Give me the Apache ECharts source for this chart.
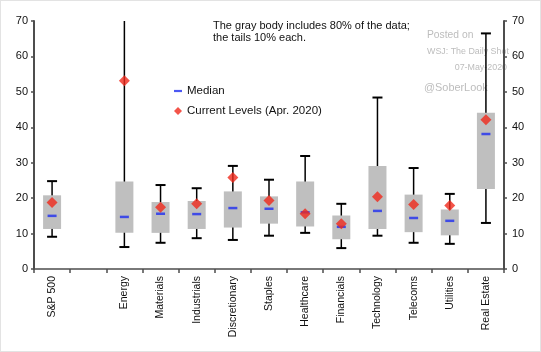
<!DOCTYPE html>
<html>
<head>
<meta charset="utf-8">
<script src="https://cdn.jsdelivr.net/npm/echarts@6/dist/echarts.min.js"></script>
<style>
  html, body { margin: 0; padding: 0; background: #fff; }
  #chart { width: 539px; height: 350px; border: 1px solid #e3e3e3; }
</style>
</head>
<body>
<div id="chart"></div>
<script>
// sectors, with an empty slot after the index
var sectors = ['S&P 500', '', 'Energy', 'Materials', 'Industrials', 'Discretionary', 'Staples',
  'Healthcare', 'Financials', 'Technology', 'Telecoms', 'Utilities', 'Real Estate'];

// 10th pct, 90th pct tails and the gray body edges
var tailLow  = [9.1, null, 6.2, 7.4, 8.7, 8.2, 9.4, 10.2, 5.9, 9.4, 7.4, 7.1, 13.0];
var bodyLow  = [11.3, null, 10.2, 10.2, 11.3, 11.7, 12.8, 12.0, 8.4, 11.3, 10.4, 9.5, 22.6];
var bodyHigh = [20.8, null, 24.7, 18.9, 19.2, 21.9, 20.5, 24.7, 15.1, 29.1, 21.0, 16.8, 44.1];
var tailHigh = [24.8, null, 75, 23.7, 22.8, 29.1, 25.2, 31.9, 18.4, 48.4, 28.5, 21.2, 66.5];
var median   = [15.0, null, 14.7, 15.6, 15.5, 17.2, 17.0, 16.0, 11.9, 16.4, 14.4, 13.6, 38.1];
var current  = [18.8, null, 53.1, 17.4, 18.4, 25.8, 19.3, 15.6, 12.8, 20.4, 18.2, 17.9, 42.1];

var yTicks = [0, 10, 20, 30, 40, 50, 60, 70];

var chart = echarts.init(document.getElementById('chart'));

var bodies = [];
for (var i = 0; i < sectors.length; i++) {
  if (tailLow[i] == null) continue;
  bodies.push([i, tailLow[i], bodyLow[i], bodyHigh[i], tailHigh[i]]);
}

var axisCol = '#4d4d4d';
var font = 'Arial, "Liberation Sans", sans-serif';

option = {
  animation: false,
  grid: { left: 33, right: 36, top: 20, bottom: 82, containLabel: false },
  xAxis: {
    type: 'category',
    data: sectors,
    boundaryGap: true,
    axisLine: { lineStyle: { color: axisCol, width: 1.5 } },
    axisTick: { show: true, length: 4, lineStyle: { color: axisCol, width: 1.5 } },
    axisLabel: { rotate: 90, interval: 0, fontSize: 10.5, color: '#111', fontFamily: font, margin: 7 }
  },
  yAxis: [{
    type: 'value', min: 0, max: 70, interval: 10,
    axisLine: { show: true, lineStyle: { color: axisCol, width: 2 } },
    axisTick: { show: true, length: 3, lineStyle: { color: axisCol, width: 1.5 } },
    axisLabel: { fontSize: 11, color: '#111', fontFamily: font, margin: 6 },
    splitLine: { show: false }
  }, {
    type: 'value', min: 0, max: 70, interval: 10, position: 'right',
    axisLine: { show: true, lineStyle: { color: axisCol, width: 2 } },
    axisTick: { show: true, length: 3, lineStyle: { color: axisCol, width: 1.5 } },
    axisLabel: { fontSize: 11, color: '#111', fontFamily: font, margin: 8 },
    splitLine: { show: false }
  }],
  legend: {
    orient: 'vertical',
    left: 168, top: 78,
    itemWidth: 8, itemHeight: 8, itemGap: 6,
    symbolKeepAspect: true,
    textStyle: { fontSize: 11.5, color: '#111', fontFamily: font, lineHeight: 14 },
    data: [
      { name: 'Median', icon: 'path://M0,0h8v2.2h-8z', itemStyle: { color: '#1f2ef0' } },
      { name: 'Current Levels (Apr. 2020)', icon: 'diamond' }
    ]
  },
  graphic: [
    { type: 'text', left: 212, top: 19, style: { text: 'The gray body includes 80% of the data;\nthe tails 10% each.', font: '11px ' + font, fill: '#111', lineHeight: 12 } },
    { type: 'text', left: 426, top: 29, style: { text: 'Posted on', font: '10.3px ' + font, fill: '#bdbdbd' } },
    { type: 'text', left: 426, top: 46, style: { text: 'WSJ: The Daily Shot', font: '8.9px ' + font, fill: '#bdbdbd' } },
    { type: 'text', right: 33, top: 62, style: { text: '07-May-2020', font: '8.9px ' + font, fill: '#bdbdbd' } },
    { type: 'text', left: 423, top: 81, style: { text: '@SoberLook', font: '10.9px ' + font, fill: '#bdbdbd' } }
  ],
  series: [{
    type: 'custom',
    name: 'body',
    clip: true,
    z: 2,
    data: bodies,
    renderItem: function (params, api) {
      var x = api.value(0);
      var lo = api.coord([x, api.value(1)]);
      var b1 = api.coord([x, api.value(2)]);
      var b2 = api.coord([x, api.value(3)]);
      var hi = api.coord([x, api.value(4)]);
      var cx = lo[0];
      var bw = 18, cw = 10;
      var blk = { stroke: '#000', lineWidth: 1.5 };
      var cap = { stroke: '#000', lineWidth: 2 };
      return {
        type: 'group',
        children: [
          { type: 'line', shape: { x1: cx, y1: lo[1], x2: cx, y2: hi[1] }, style: blk },
          { type: 'line', shape: { x1: cx - cw / 2, y1: lo[1], x2: cx + cw / 2, y2: lo[1] }, style: cap },
          { type: 'line', shape: { x1: cx - cw / 2, y1: hi[1], x2: cx + cw / 2, y2: hi[1] }, style: cap },
          { type: 'rect', shape: { x: cx - bw / 2, y: b2[1], width: bw, height: b1[1] - b2[1] },
            style: { fill: '#bfbfbf' } }
        ]
      };
    }
  }, {
    type: 'scatter',
    name: 'Median',
    z: 3,
    symbol: 'rect',
    symbolSize: [9, 2.5],
    itemStyle: { color: '#1f2ef0' },
    data: median
  }, {
    type: 'scatter',
    name: 'Current Levels (Apr. 2020)',
    z: 4,
    symbol: 'diamond',
    symbolSize: [11, 11],
    itemStyle: { color: '#f0291c' },
    data: current
  }]
};

chart.setOption(option);
</script>
</body>
</html>
